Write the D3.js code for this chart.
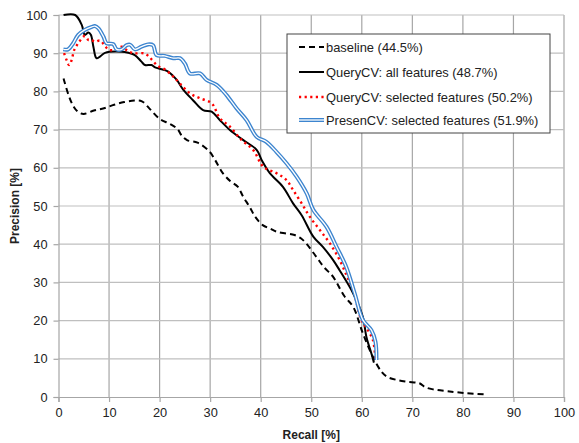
<!DOCTYPE html>
<html>
<head>
<meta charset="utf-8">
<script src="https://cdn.jsdelivr.net/npm/d3@7"></script>
<style>
  body { margin: 0; background: #fff; }
  text { font-family: "Liberation Sans", Arial, sans-serif; }
</style>
</head>
<body>
<svg id="chart"></svg>
<script>
// data: [recall %, precision %]
var baseline = [
  [1, 83.4], [2, 79], [3, 76], [4, 74.5], [5, 74.1], [7, 75], [9, 75.6], [11, 76.5],
  [13, 77.2], [15, 77.6], [16.5, 77.4], [18, 75.5], [20, 72.8], [22, 71.5], [23.5, 70.2],
  [24.5, 68.2], [25.5, 67.2], [27.5, 66.6], [29.9, 64.2], [31, 62], [32.5, 58.6], [34, 56.5],
  [35.5, 55], [36.5, 52.5], [37.8, 49.8], [39, 47], [40.4, 45], [42, 44], [43.1, 43.3],
  [45, 42.8], [46.7, 42.4], [48, 41.5], [49, 40.2], [51, 36.7], [52.5, 34], [54.3, 31.5],
  [56.6, 26.3], [58.3, 23.6], [60.2, 16.7], [62.2, 10.5], [63.9, 6.6], [65, 5.3], [66.8, 4.5],
  [69, 4], [71.4, 3.6], [72.5, 2.6], [74.1, 2.0], [77, 1.5], [80.7, 1.0], [84.3, 0.7]
];
var queryAll = [
  [1, 100], [3.3, 100], [4.6, 97.4], [5.2, 94.8], [5.9, 95.4], [6.4, 94.8], [6.9, 91.7],
  [7.5, 88.7], [8.2, 89.1], [9.2, 90.1], [12.5, 90.4], [13.8, 90.1], [15.1, 89.5],
  [16.4, 87.8], [17.1, 86.9], [18.4, 86.9], [19.1, 86.3], [20.4, 85.8], [21.7, 85.2],
  [22.7, 84], [23.4, 83], [24.7, 80.4], [26.6, 77.7], [28.6, 75.1], [30.3, 74.7],
  [31.9, 72.5], [33.9, 69.9], [36.5, 67.3], [39.2, 64.7], [40.2, 62], [41.8, 58.6],
  [44.4, 55], [46.4, 50.7], [48.1, 47.6], [50.4, 42], [52.3, 39.3], [54.3, 35.9],
  [55.6, 33.2], [58.3, 27.1], [60.2, 21], [60.9, 15.8], [61.9, 11.4], [62.4, 9.0]
];
var querySel = [
  [1.1, 90], [1.6, 88.2], [2.1, 86.9], [2.6, 88.2], [3.1, 90.8], [3.9, 92.6], [5.2, 94.5],
  [5.9, 93.5], [6.5, 93.5], [7.2, 93], [8.2, 93.3], [9.1, 92.1], [9.8, 91], [10.8, 90.8],
  [12.5, 91.7], [13.5, 90.8], [14.8, 90], [17.1, 89.9], [18.4, 88.4], [19.7, 86.6],
  [21, 85.8], [22.7, 83.9], [24, 82.1], [26, 79.5], [28, 78.2], [30.3, 76.9], [31.9, 73],
  [33.9, 70.8], [36.2, 67.3], [38.5, 64.7], [40.5, 60.3], [43.1, 58.6], [45.1, 56.8],
  [46.4, 54.2], [48.1, 50.7], [49.7, 47.2], [51.7, 43.7], [53.7, 40.2], [55.6, 35.9],
  [57.1, 31.5], [58.3, 28], [59.9, 20.2], [61.2, 17.5], [62.2, 14.9], [62.7, 9.7]
];
var presenSel = [
  [0.95, 91], [1.9, 91], [2.9, 92.6], [3.9, 94.8], [5.2, 96.1], [6.6, 96.9], [7.2, 97.1],
  [7.9, 96.5], [8.9, 94.3], [9.5, 92.6], [10.8, 92.4], [11.5, 91], [12.5, 91], [13.5, 92.1],
  [14.2, 92.2], [15.1, 91], [16.4, 91.7], [17.7, 92.3], [18.7, 92.1], [19.4, 89.5],
  [21, 89.3], [22.7, 88.7], [24, 88.7], [25, 87.3], [26, 84.7], [28, 84.7], [29.3, 83],
  [31.3, 81.7], [33.2, 79.1], [35.2, 75.6], [37.2, 72.5], [39.2, 68.1], [41.1, 66.8],
  [43.1, 64.2], [45.1, 61.2], [47.1, 57.7], [49.1, 53.3], [50.4, 49], [53, 44.6],
  [55, 39.3], [56.9, 34.1], [58.6, 27.1], [60.2, 20.2], [61.9, 17.5], [62.7, 14.5], [62.9, 9.7]
];
var xTicks = [0, 10, 20, 30, 40, 50, 60, 70, 80, 90, 100];
var yTicks = [0, 10, 20, 30, 40, 50, 60, 70, 80, 90, 100];
var legendLabels = [
  "baseline (44.5%)",
  "QueryCV: all features (48.7%)",
  "QueryCV: selected features (50.2%)",
  "PresenCV: selected features (51.9%)"
];

var W = 579, H = 443;
var svg = d3.select("#chart").attr("width", W).attr("height", H);

var x = d3.scaleLinear().domain([0, 100]).range([58.5, 564]);
var y = d3.scaleLinear().domain([0, 100]).range([397, 15]);

// grid
var grid = svg.append("g");
grid.selectAll(".vg").data(xTicks.slice(1)).enter().append("line")
  .attr("x1", d => x(d)).attr("x2", d => x(d))
  .attr("y1", y(0)).attr("y2", y(100))
  .attr("stroke", "#a6a6a6").attr("stroke-width", 1.2);
grid.selectAll(".hg").data(yTicks.slice(1)).enter().append("line")
  .attr("x1", x(0)).attr("x2", x(100))
  .attr("y1", d => y(d)).attr("y2", d => y(d))
  .attr("stroke", "#bfbfbf").attr("stroke-width", 1.2);

// axes
var xAxis = svg.append("g")
  .attr("transform", "translate(0," + y(0) + ")")
  .call(d3.axisBottom(x).tickValues(xTicks).tickSize(5).tickPadding(6));
var yAxis = svg.append("g")
  .attr("transform", "translate(" + x(0) + ",0)")
  .call(d3.axisLeft(y).tickValues(yTicks).tickSize(5).tickPadding(6));
[xAxis, yAxis].forEach(function (a) {
  a.select(".domain").attr("stroke", "#a6a6a6").attr("stroke-width", 1.2);
  a.selectAll(".tick line").attr("stroke", "#a6a6a6").attr("stroke-width", 1.2);
  a.selectAll(".tick text").attr("fill", "#222").style("font-size", "12.8px")
    .style("font-family", "'Liberation Sans', Arial, sans-serif");
});

svg.append("text")
  .attr("x", x(50)).attr("y", 439)
  .attr("text-anchor", "middle")
  .style("font-size", "12px").style("font-weight", "bold").attr("fill", "#222")
  .text("Recall [%]");
svg.append("text")
  .attr("transform", "translate(19," + y(50) + ") rotate(-90)")
  .attr("text-anchor", "middle")
  .style("font-size", "12px").style("font-weight", "bold").attr("fill", "#222")
  .text("Precision [%]");

// lines
var line = d3.line()
  .x(d => x(d[0])).y(d => y(d[1]))
  .curve(d3.curveCatmullRom.alpha(0.5));

var lines = svg.append("g");
lines.append("path").datum(baseline).attr("d", line)
  .attr("fill", "none").attr("stroke", "#000").attr("stroke-width", 2)
  .attr("stroke-dasharray", "6,4");
lines.append("path").datum(queryAll).attr("d", line)
  .attr("fill", "none").attr("stroke", "#000").attr("stroke-width", 2);
lines.append("path").datum(querySel).attr("d", line)
  .attr("fill", "none").attr("stroke", "#ff0000").attr("stroke-width", 2.4)
  .attr("stroke-dasharray", "2.2,3.4");
lines.append("path").datum(presenSel).attr("d", line)
  .attr("fill", "none").attr("stroke", "#3d85cf").attr("stroke-width", 4);
lines.append("path").datum(presenSel).attr("d", line)
  .attr("fill", "none").attr("stroke", "#fff").attr("stroke-width", 1.3);

// legend
var lg = svg.append("g");
lg.append("rect")
  .attr("x", 287).attr("y", 34).attr("width", 263).attr("height", 99)
  .attr("fill", "#fff").attr("stroke", "#444").attr("stroke-width", 1);
var rowsY = [47, 72, 97, 120];
var styles = [
  { stroke: "#000", w: 2, dash: "6,4" },
  { stroke: "#000", w: 2, dash: null },
  { stroke: "#ff0000", w: 2.4, dash: "2.2,3.4" },
  { stroke: "#3d85cf", w: 4, dash: null, inner: true }
];
legendLabels.forEach(function (lab, i) {
  var s = styles[i];
  var l = lg.append("line")
    .attr("x1", 299).attr("x2", 324).attr("y1", rowsY[i]).attr("y2", rowsY[i])
    .attr("stroke", s.stroke).attr("stroke-width", s.w);
  if (s.dash) l.attr("stroke-dasharray", s.dash);
  if (s.inner) {
    lg.append("line")
      .attr("x1", 299).attr("x2", 324).attr("y1", rowsY[i]).attr("y2", rowsY[i])
      .attr("stroke", "#fff").attr("stroke-width", 1.3);
  }
  lg.append("text")
    .attr("x", 326).attr("y", rowsY[i]).attr("dy", "0.35em")
    .style("font-size", "12.9px").attr("fill", "#222")
    .text(lab);
});
</script>
</body>
</html>
